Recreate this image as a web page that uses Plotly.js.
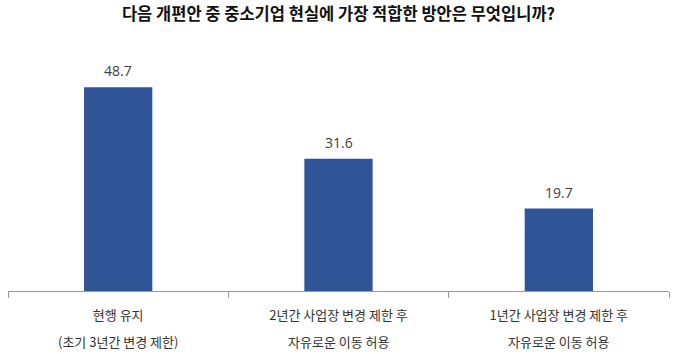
<!DOCTYPE html>
<html>
<head>
<meta charset="utf-8">
<script src="https://cdn.plot.ly/plotly-3.0.1.min.js"></script>
<style>html,body{margin:0;padding:0;background:#fff;}#chart{width:677px;height:354px;}</style>
</head>
<body>
<div id="chart"></div>
<script>
const titleText = "다음 개편안 중 중소기업 현실에 가장 적합한 방안은 무엇입니까?";
const categories = ["현행 유지", "2년간 사업장 변경 제한 후", "1년간 사업장 변경 제한 후"];
const subLabels = ["(초기 3년간 변경 제한)", "자유로운 이동 허용", "자유로운 이동 허용"];
const values = [48.7, 31.6, 19.7];

const font = "'Noto Sans CJK KR', 'Noto Sans', sans-serif";

const trace = {
  type: "bar",
  x: categories,
  y: values,
  marker: {color: "#2F5597"},
  hoverinfo: "none"
};

const subAnnotations = categories.map((c, i) => ({
  x: c, xref: "x", y: 0, yref: "paper",
  text: subLabels[i], showarrow: false,
  yanchor: "middle", yshift: -50,
  font: {family: font, size: 13, color: "#333"}
}));

const valueAnnotations = categories.map((c, i) => ({
  x: c, xref: "x", y: values[i], yref: "y",
  text: values[i].toFixed(1), showarrow: false,
  yanchor: "bottom", yshift: 5,
  font: {family: "'Open Sans', sans-serif", size: 14, color: "#404040"}
}));

const layout = {
  width: 677, height: 354,
  margin: {l: 8, r: 8, t: 40, b: 63},
  paper_bgcolor: "#fff", plot_bgcolor: "#fff",
  showlegend: false,
  bargap: 0.69,
  title: {text: "<b>" + titleText + "</b>", x: 0.5, xanchor: "center", y: 0.96, yanchor: "middle",
          font: {family: font, size: 16.5, color: "#111"}},
  xaxis: {
    showline: true, linecolor: "#999", linewidth: 1,
    ticks: "outside", tickson: "boundaries", ticklen: 6, tickcolor: "#999",
    tickfont: {family: font, size: 13, color: "#333"},
    ticklabelstandoff: 12,
    showgrid: false, zeroline: false, fixedrange: true
  },
  yaxis: {
    range: [0, 60], visible: false, showgrid: false, zeroline: false, fixedrange: true
  },
  annotations: valueAnnotations.concat(subAnnotations)
};

Plotly.newPlot("chart", [trace], layout, {displayModeBar: false, staticPlot: true});
</script>
</body>
</html>
